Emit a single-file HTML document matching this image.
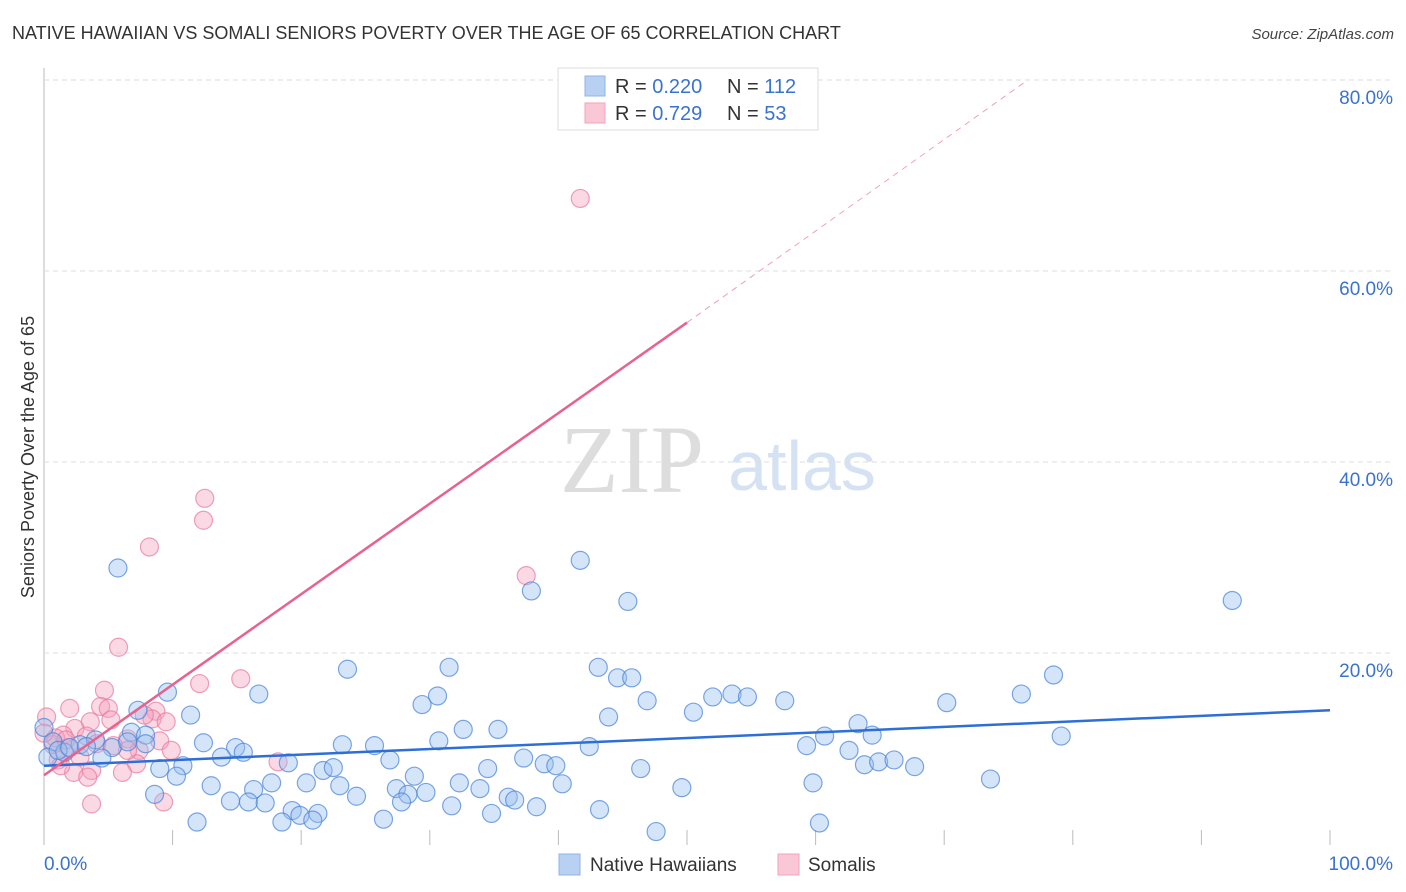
<!DOCTYPE html>
<html><head><meta charset="utf-8"><style>
body{margin:0;background:#fff;font-family:"Liberation Sans",sans-serif;}
#wrap{position:relative;width:1406px;height:892px;overflow:hidden;}
</style></head><body>
<div id="wrap">
<svg id="svg" width="1406" height="892" xmlns="http://www.w3.org/2000/svg">
<text x="12" y="39" font-size="18" fill="#333">NATIVE HAWAIIAN VS SOMALI SENIORS POVERTY OVER THE AGE OF 65 CORRELATION CHART</text>
<text x="1394" y="39" font-size="15" fill="#444" font-style="italic" text-anchor="end">Source: ZipAtlas.com</text>
<text x="0" y="0" transform="translate(34,457) rotate(-90)" font-size="18" fill="#333" text-anchor="middle">Seniors Poverty Over the Age of 65</text>
<text x="632" y="492" font-size="96" fill="#ddd" font-family="Liberation Serif,serif" text-anchor="middle">ZIP</text>
<text x="802" y="490" font-size="70" fill="#d4e2f4" text-anchor="middle">atlas</text>
<g id="grid"></g><g id="marks"></g><g id="lines"></g>
<g>
<rect x="558" y="68" width="260" height="62" fill="#fff" stroke="#ddd"/>
<rect x="585" y="76" width="20" height="20" fill="#b8d1f3" stroke="#8fb3e8"/>
<rect x="585" y="103" width="20" height="20" fill="#fac7d6" stroke="#f2a3bb"/>
<text x="615" y="93" font-size="20" fill="#333">R = <tspan fill="#3a72d0">0.220</tspan></text>
<text x="727" y="93" font-size="20" fill="#333">N = <tspan fill="#3a72d0">112</tspan></text>
<text x="615" y="120" font-size="20" fill="#333">R = <tspan fill="#3a72d0"> 0.729</tspan></text>
<text x="727" y="120" font-size="20" fill="#333">N = <tspan fill="#3a72d0"> 53</tspan></text>
</g>
<g>
<rect x="559" y="854" width="21" height="21" fill="#b8d1f3" stroke="#8fb3e8"/>
<text x="590" y="871" font-size="19" fill="#333">Native Hawaiians</text>
<rect x="778" y="854" width="21" height="21" fill="#fac7d6" stroke="#f2a3bb"/>
<text x="808" y="871" font-size="19" fill="#333">Somalis</text>
</g>
</svg></div>
<script>
const yTicks=[20,40,60,80];
const yTickLabels=["20.0%","40.0%","60.0%","80.0%"];
const xTicks=[0,10,20,30,40,50,60,70,80,90,100];
const blueX=[5.75,41.7,37.9,45.4,92.4,23.6,31.5,43.1,44.6,45.7,78.5,9.6,16.7,30.6,29.4,46.9,52.0,53.5,54.7,57.6,70.2,76.0,7.3,11.4,43.9,50.5,63.3,32.6,35.3,6.8,7.9,60.7,64.4,79.1,0,0.7,1.6,2.8,4.0,5.3,6.5,12.4,14.9,13.8,15.5,23.2,25.7,30.7,42.4,59.3,62.6,19.0,26.9,37.3,38.9,39.8,63.8,64.9,66.1,67.7,9.0,10.8,10.3,21.7,22.5,34.5,46.4,28.8,17.7,13.0,20.4,23.0,32.3,33.9,40.3,49.6,59.8,73.6,8.6,16.3,27.4,28.3,29.7,24.3,36.1,36.6,14.5,15.9,17.2,27.8,31.7,38.3,19.3,19.9,21.3,43.2,34.8,11.9,18.5,20.9,26.4,60.3,47.6,0.3,1.1,2.0,3.3,4.5,7.9];
const blueY=[28.9,29.7,26.5,25.4,25.5,18.3,18.5,18.5,17.4,17.4,17.7,15.9,15.7,15.5,14.6,15.0,15.4,15.7,15.4,15.0,14.8,15.7,14.0,13.5,13.3,13.8,12.6,12.0,12.0,11.7,11.4,11.3,11.4,11.3,12.2,10.7,9.6,10.4,10.9,10.1,10.7,10.6,10.1,9.1,9.6,10.4,10.3,10.8,10.2,10.3,9.8,8.5,8.8,9.0,8.4,8.2,8.3,8.6,8.8,8.1,7.9,8.2,7.1,7.7,8.0,7.9,7.9,7.1,6.4,6.1,6.4,6.1,6.4,5.8,6.3,5.9,6.4,6.8,5.2,5.7,5.8,5.2,5.4,5.0,4.9,4.6,4.5,4.4,4.3,4.4,4.0,3.9,3.5,3.0,3.2,3.6,3.2,2.3,2.3,2.5,2.6,2.2,1.3,9.1,9.8,10.1,10.2,9.0,10.5];
const pinkX=[41.7,12.5,12.4,8.2,37.5,5.8,12.1,15.3,4.7,2.0,4.4,5.0,8.7,8.4,9.5,0.2,3.6,5.2,2.4,1.5,3.3,6.5,9.0,0.7,1.9,4.1,7.4,9.9,5.4,1.1,2.8,7.2,3.7,6.1,2.3,3.4,18.2,9.3,3.7,0.9,1.7,0,1.3,7.8,6.5];
const pinkY=[67.6,36.2,33.9,31.1,28.1,20.6,16.8,17.3,16.1,14.2,14.4,14.2,13.9,13.1,12.8,13.3,12.8,13.0,12.1,11.4,11.3,11.0,10.8,10.4,10.1,10.5,9.8,9.8,10.3,8.8,9.1,8.4,7.7,7.5,7.5,7.0,8.6,4.4,4.2,11.1,10.9,11.6,8.2,13.5,9.8];
const blueTrend=[[0,8.2],[100,14.0]];
const pinkTrend=[[0,7.2],[50,54.6]];
const pinkTrendDash=[[50,54.6],[76.5,80]];
const X=v=>44+v*12.86, Y=v=>844-v*9.55;
const NS="http://www.w3.org/2000/svg";
function mk(t,a,p){const e=document.createElementNS(NS,t);for(const k in a)e.setAttribute(k,a[k]);p.appendChild(e);return e;}
const grid=document.getElementById('grid'),marks=document.getElementById('marks'),lines=document.getElementById('lines');
let ax=mk('line',{x1:44,y1:68,x2:44,y2:845,stroke:'#bbb'},grid);


let gt=mk('line',{x1:44,y1:Y(80),x2:1394,y2:Y(80),stroke:'#ddd','stroke-dasharray':'5,4'},grid);


yTicks.forEach((t,i)=>{
 const g=mk('line',{x1:44,y1:Y(t),x2:1394,y2:Y(t),stroke:'#ddd','stroke-dasharray':'5,4'},grid);
 
 
 const l=mk('text',{x:1393,y:Y(t)+24,'font-size':19,fill:'#3a72d0','text-anchor':'end'},grid);
 l.textContent=yTickLabels[i];
 
 
});
xTicks.forEach(t=>{
 const g=mk('line',{x1:X(t),y1:830,x2:X(t),y2:845,stroke:'#bbb'},grid);
 
 
});
let xl=mk('text',{x:44,y:870,'font-size':19,fill:'#3a72d0'},grid);xl.textContent='0.0%';


let xr=mk('text',{x:1393,y:870,'font-size':19,fill:'#3a72d0','text-anchor':'end'},grid);xr.textContent='100.0%';


pinkX.forEach((v,i)=>{
 const c=mk('circle',{cx:X(v),cy:Y(pinkY[i]),r:9,fill:'rgba(246,160,188,0.4)',stroke:'rgba(232,120,156,0.7)','stroke-width':1.2},marks);
 
 
});
blueX.forEach((v,i)=>{
 const c=mk('circle',{cx:X(v),cy:Y(blueY[i]),r:9,fill:'rgba(150,190,240,0.4)',stroke:'rgba(70,130,215,0.7)','stroke-width':1.2},marks);
 
 
});
let bl=mk('line',{x1:X(blueTrend[0][0]),y1:Y(blueTrend[0][1]),x2:X(blueTrend[1][0]),y2:Y(blueTrend[1][1]),stroke:'#2d6fd6','stroke-width':2.5},lines);


let pl=mk('line',{x1:X(pinkTrend[0][0]),y1:Y(pinkTrend[0][1]),x2:X(pinkTrend[1][0]),y2:Y(pinkTrend[1][1]),stroke:'#e8628e','stroke-width':2.5},lines);


let pd=mk('line',{x1:X(pinkTrendDash[0][0]),y1:Y(pinkTrendDash[0][1]),x2:X(pinkTrendDash[1][0]),y2:Y(pinkTrendDash[1][1]),stroke:'#f0a0b8','stroke-width':1,'stroke-dasharray':'6,5'},lines);


</script>
</body></html>
